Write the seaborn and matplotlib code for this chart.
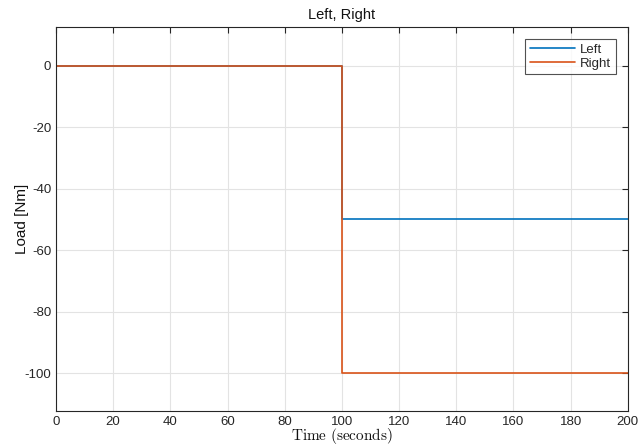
import numpy as np
import pandas as pd
import seaborn as sns
import matplotlib.pyplot as plt

# step data
time = [0, 100, 100, 200]
left = [0, 0, -50, -50]
right = [0, 0, -100, -100]
series = ['Left', 'Right']

df = pd.concat([
    pd.DataFrame({'t': time, 'load': left, 'series': 'Left'}),
    pd.DataFrame({'t': time, 'load': right, 'series': 'Right'}),
], ignore_index=True)

sns.set_style('white')
plt.rcParams['font.family'] = ['Liberation Sans', 'DejaVu Sans']
plt.rcParams['mathtext.fontset'] = 'cm'
plt.rcParams['axes.unicode_minus'] = False

fig = plt.figure(figsize=(6.4, 4.48), dpi=100)
ax = fig.add_axes([0.0875, 0.0826, 0.8935, 0.8574])

sns.lineplot(data=df, x='t', y='load', hue='series', hue_order=series,
             palette=['#0072BD', '#D95319'], estimator=None, sort=False,
             linewidth=1.2, ax=ax)

ax.set_xlim(0, 200)
ax.set_ylim(-112.3, 12.6)
ax.set_xticks(np.arange(0, 201, 20))
ax.set_yticks(np.arange(-100, 1, 20))
ax.grid(True, color='#e3e3e3', linewidth=0.8)
ax.tick_params(direction='in', length=4, labelsize=9.5, color='#262626',
               top=True, right=True, labelcolor='#262626')
for s in ax.spines.values():
    s.set_color('#262626')
    s.set_linewidth(0.8)

ax.set_title('Left, Right', fontsize=10.5, color='#111111', pad=6)
ax.set_ylabel('Load [Nm]', fontsize=11, color='#111111', labelpad=-3)
ax.set_xlabel(r'$\mathrm{Time\ (seconds)}$', fontsize=11, color='#111111', labelpad=-1)

leg = ax.legend(loc='upper right', fontsize=9.5, frameon=True, fancybox=False,
                edgecolor='#262626', handlelength=3.4, borderpad=0.35,
                labelspacing=0.15, handletextpad=0.4, borderaxespad=0.9)
leg.get_frame().set_linewidth(0.8)

fig.savefig('out.png', dpi=100)
